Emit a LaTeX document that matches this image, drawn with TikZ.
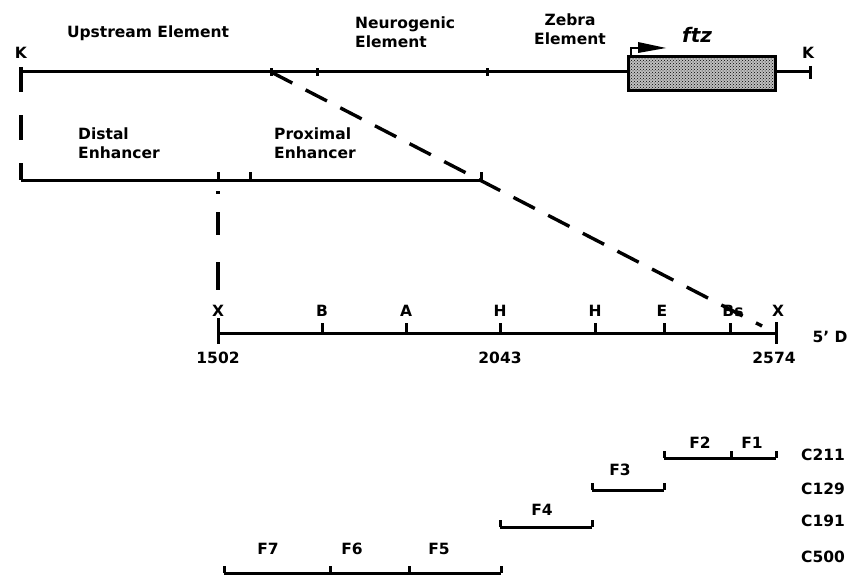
\documentclass[tikz,border=0pt]{standalone}
\usepackage{fontspec}
\setmainfont{DejaVu Sans}
\usetikzlibrary{patterns}
\begin{document}
\begin{tikzpicture}[x=1pt,y=-1pt,
  lbl/.style={font=\fontsize{15.5}{19}\selectfont\bfseries, inner sep=0pt},
  lbll/.style={lbl, align=left, anchor=west},
  lblc/.style={lbl, align=center},
  mainline/.style={line width=3pt},
  tk/.style={line width=3pt},
  bigdash/.style={line width=3.4pt, dash pattern=on 24pt off 15pt},
  gene/.style={draw, line width=2pt, fill=gray!50}]
\useasboundingbox (0,0) rectangle (865,578);
% ---------- top map ----------
\coordinate (K1) at (21,72);
\coordinate (K2) at (810,72);
\coordinate (T1) at (271,72);
\coordinate (T2) at (317,72);
\coordinate (T3) at (487,72);
\draw[mainline] (K1) -- (K2);
\draw[tk] (810,66) -- (810,79);
\foreach \p in {T1,T2,T3} \draw[tk] ([yshift=-4pt]\p) -- ([yshift=4pt]\p);
\node[gene, minimum width=146pt, minimum height=33pt, inner sep=0pt] (box) at (702,73.5) {};
\fill[pattern=crosshatch dots, pattern color=black] (box.south west) rectangle (box.north east);
\draw[line width=2pt] (box.south west) rectangle (box.north east);
\draw[line width=2.2pt] (631,57) -- (631,48) -- (640,48);
\fill (638,42) -- (666,48) -- (638,53) -- cycle;
\node[font=\fontsize{20}{22}\selectfont\bfseries\itshape, inner sep=0pt] (ftz) at (697,35) {ftz};
\node[lblc] (kl) at (21,53) {K};
\node[lblc] (kr) at (808,53) {K};
\node[lblc] (up) at (148,33) {Upstream Element};
\node[lbll] (neu) at (355,32) {Neurogenic\\Element};
\node[lblc] (zeb) at (570,29) {Zebra\\Element};
% ---------- enhancer line ----------
\coordinate (E0) at (21,180);
\coordinate (E1) at (218,180);
\coordinate (E2) at (250,180);
\coordinate (E3) at (481,180);
\coordinate (Ktop) at (21,67);
\draw[line width=3.2pt, dash pattern=on 25pt off 23pt] (Ktop) -- (E0);
\draw[mainline] (E0) -- (E3);
\foreach \p in {E1,E2,E3} \draw[tk] (\p) -- ([yshift=8pt]\p);
\node[lbll] (dist) at (78,143) {Distal\\Enhancer};
\node[lbll] (prox) at (274,143) {Proximal\\Enhancer};
% ---------- ruler ----------
\coordinate (R0) at (218,333);
\coordinate (RB) at (322,333);
\coordinate (RA) at (406,333);
\coordinate (RH1) at (500,333);
\coordinate (RH2) at (595,333);
\coordinate (RE) at (664,333);
\coordinate (RBs) at (730,333);
\coordinate (R1) at (776,333);
\draw[mainline] (R0) -- (R1);
\draw[tk] (218,318) -- (218,344);
\draw[tk] (776,322) -- (776,344);
\foreach \p in {RB,RA,RH1,RH2,RE,RBs} \draw[tk] (\p) -- ([yshift=10pt]\p);
\node[lblc] (lx1) at (218,311) {X};
\node[lblc] (lb) at (322,311) {B};
\node[lblc] (la) at (406,311) {A};
\node[lblc] (lh1) at (500,311) {H};
\node[lblc] (lh2) at (595,311) {H};
\node[lblc] (le) at (662,311) {E};
\node[lblc] (lbs) at (733,311) {Bs};
\node[lblc] (lx2) at (778,311) {X};
\node[lblc] (n1) at (218,358) {1502};
\node[lblc] (n2) at (500,358) {2043};
\node[lblc] (n3) at (774,358) {2574};
\node[lblc] (fd) at (830,337) {5' D};
% ---------- expansion dashes ----------
\coordinate (Dend) at (762,326);
\draw[bigdash] (T1) -- (Dend);
\coordinate (V0) at (218,191);
\coordinate (V1) at (218,300);
\draw[line width=3.2pt, dash pattern=on 3pt off 18pt on 23pt off 27pt on 28pt off 20pt] (V0) -- (V1);
% ---------- fragments ----------
\coordinate (a0) at (664,458); \coordinate (a1) at (731,458); \coordinate (a2) at (776,458);
\draw[mainline] (a0) -- (a2);
\foreach \p in {a0,a1,a2} \draw[tk] (\p) -- ([yshift=7pt]\p);
\node[lblc] (f2) at (700,443) {F2};
\node[lblc] (f1) at (752,443) {F1};
\node[lblc] (c211) at (823,455) {C211};
\coordinate (b0) at (592,490); \coordinate (b1) at (664,490);
\draw[mainline] (b0) -- (b1);
\foreach \p in {b0,b1} \draw[tk] (\p) -- ([yshift=7pt]\p);
\node[lblc] (f3) at (620,470) {F3};
\node[lblc] (c129) at (823,489) {C129};
\coordinate (c0) at (500,527); \coordinate (c1) at (592,527);
\draw[mainline] (c0) -- (c1);
\foreach \p in {c0,c1} \draw[tk] (\p) -- ([yshift=7pt]\p);
\node[lblc] (f4) at (542,510) {F4};
\node[lblc] (c191) at (823,521) {C191};
\coordinate (d0) at (224,573); \coordinate (d1) at (330,573); \coordinate (d2) at (409,573); \coordinate (d3) at (501,573);
\draw[mainline] (d0) -- (d3);
\foreach \p in {d0,d1,d2,d3} \draw[tk] (\p) -- ([yshift=7pt]\p);
\node[lblc] (f7) at (268,549) {F7};
\node[lblc] (f6) at (352,549) {F6};
\node[lblc] (f5) at (439,549) {F5};
\node[lblc] (c500) at (823,557) {C500};
\end{tikzpicture}
\end{document}
